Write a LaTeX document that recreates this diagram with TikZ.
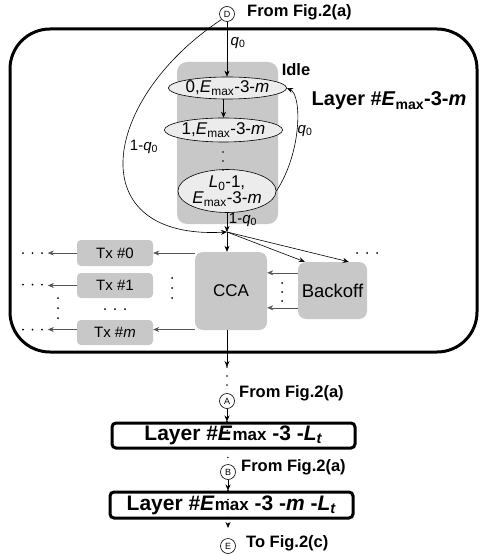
\documentclass[tikz,border=0pt]{standalone}
\usepackage{fontspec}
\setmainfont{Liberation Sans}
\usetikzlibrary{arrows.meta,shapes.geometric,calc}
\newcommand{\setfs}[1]{\fontsize{#1}{#1}\selectfont}
\newcommand{\Emx}{\textit{E}\textsubscript{max}}
\newcommand{\qz}{\textit{q}\textsubscript{0}}
\definecolor{boxgray}{HTML}{C8C8C8}
\definecolor{ellgray}{HTML}{ECECEC}
\definecolor{linegray}{HTML}{555555}
\tikzset{
  gbox/.style={fill=boxgray, rounded corners=8pt, inner sep=0pt},
  st/.style={ellipse, draw, fill=ellgray, inner sep=0pt, line width=0.6pt, font=\setfs{17}},
  fig/.style={circle, draw, inner sep=0pt, minimum size=15pt, line width=0.6pt, font=\setfs{9}},
  arr/.style={-{Stealth[length=6pt,width=5pt]}, line width=0.6pt},
  garr/.style={arr, draw=linegray},
  blbl/.style={font=\bfseries\setfs{16.5}, inner sep=0pt},
  lbl/.style={font=\setfs{15}, inner sep=1pt},
  layerbox/.style={draw, line width=3pt, rounded corners=4pt, inner sep=0pt, font=\bfseries\setfs{21}},
  dotline/.style={line width=1.6pt, dash pattern=on 0pt off 9pt, line cap=round}
}
\begin{document}
\begin{tikzpicture}[x=1pt,y=-1pt]
\useasboundingbox (0,0) rectangle (482,556);
% big layer frame
\node[draw, line width=3pt, rounded corners=40pt, minimum width=467, minimum height=323, inner sep=0pt] (layer) at (243.5,190.5) {};
% idle box
\node[gbox, rounded corners=10pt, minimum width=101, minimum height=162] (idle) at (227.5,143) {};
\node[font=\bfseries\setfs{16.5}, inner sep=0pt] (idlelbl) at (296,70) {Idle};
\node[font=\bfseries\setfs{20}, inner sep=0pt] (title) at (389,101) {Layer \#\Emx-3-\textit{m}};
% states
\node[st, minimum width=95, minimum height=22] (s0) at (227.5,88) {0,\Emx-3-\textit{m}};
\node[st, minimum width=93, minimum height=24] (s1) at (223.5,130) {1,\Emx-3-\textit{m}};
\node[st, minimum width=94, minimum height=35, align=center, font=\setfs{17}] (s2) at (227,191) {\textit{L}\textsubscript{0}-1,\\[-1pt]\Emx-3-\textit{m}};
\foreach \yy in {152,161,170} \fill (223,\yy) circle[radius=0.9pt];
% D circle
\node[fig] (D) at (227,14) {D};
\node[blbl, anchor=west] (fromD) at (247,12) {From Fig.2(a)};
\coordinate (J) at (227,232);
\draw[arr] (D.south) -- (D.south |- s0.north);
\node[lbl] (q0a) at (238,43) {\qz};
\draw[arr] (s1.north |- s0.south) -- (s1.north);
\draw[arr] (s2.south) -- (J);
\node[lbl] (q0b) at (243,220) {1-\qz};
\draw[arr] (D.south west) .. controls (100,100) and (80,240) .. (J);
\node[lbl] (q0c) at (144,147) {1-\qz};
\draw[arr] (s2.east) .. controls (302,152) and (302,95) .. (s0.east);
\node[lbl] (q0d) at (305,131) {\qz};
% CCA, Backoff, Tx
\node[gbox, minimum width=72, minimum height=78, font=\setfs{17}] (cca) at (231,291) {CCA};
\node[gbox, minimum width=69, minimum height=57, font=\setfs{18.5}] (bo) at (332.5,290.5) {Backoff};
\node[gbox, rounded corners=4pt, minimum width=76, minimum height=26, font=\setfs{15}] (tx0) at (115,253) {Tx \#0};
\node[gbox, rounded corners=4pt, minimum width=76, minimum height=25, font=\setfs{15}] (tx1) at (115,285.5) {Tx \#1};
\node[gbox, rounded corners=4pt, minimum width=76, minimum height=25, font=\setfs{15}] (txm) at (115,332.5) {Tx \#\textit{m}};
\draw[arr] (J) -- (J |- cca.north);
\draw[arr] (J) -- ($(bo.north west)+(7,0)$);
\draw[arr] (J) -- ($(bo.north west)+(51,0)$);
\draw[garr] ($(bo.north west)+(0,11)$) -- ($(cca.north east)+(0,21)$);
\draw[garr] ($(bo.north west)+(0,46)$) -- ($(cca.north east)+(0,56)$);
\draw[garr] (cca.west |- tx0) -- (tx0.east);
\draw[garr] ($(cca.west |- txm)+(0,-3)$) -- ($(txm.east)+(0,-3)$);
\draw[garr] (tx0.west) -- ++(-29,0);
\draw[garr] (tx1.west) -- ++(-29,0);
\draw[garr] ($(txm.west)+(0,-3)$) -- ++(-29,0);
\foreach \yy in {253,284.5,329.5} \foreach \xx in {23,32.5,42} \fill (\xx,\yy) circle[radius=1pt];
\foreach \yy in {298,308,318} \fill (58,\yy) circle[radius=1pt];
\foreach \xx in {105,115,125} \fill (\xx,309) circle[radius=1pt];
\foreach \yy in {278,288,298} \fill (172,\yy) circle[radius=1pt];
\foreach \yy in {283,292,301} \fill (282,\yy) circle[radius=1pt];
\foreach \xx in {357,367,377} \fill (\xx,253) circle[radius=1pt];
% lower part
\coordinate (c1) at (227,367);
\draw[arr] (J |- cca.south) -- (c1);
\node[fig] (A) at (227,401) {A};
\draw[dotline] (c1) -- (A.north);
\node[blbl, anchor=west] (fromA) at (239,393) {From Fig.2(a)};
\node[layerbox, minimum width=243, minimum height=25] (L1) at (233.5,435.5) {Layer \#\textit{E}{\setfs{17}max} -3 -\textit{L}\textsubscript{\textit{t}}};
\draw[arr] (A.south) -- (A.south |- L1.north);
\node[fig] (B) at (228,472) {B};
\draw[dotline] (A.south |- L1.north) -- (B.north);
\node[blbl, anchor=west] (fromB) at (241,467) {From Fig.2(a)};
\node[layerbox, minimum width=243, minimum height=26] (L2) at (231.5,505) {Layer \#\textit{E}{\setfs{17}max} -3 -\textit{m} -\textit{L}\textsubscript{\textit{t}}};
\draw[arr] (B.south) -- (B.south |- L2.north);
\node[fig] (E) at (228,546) {E};
\draw[dotline] (B.south |- L2.north) -- ++(0,28);
\draw[arr] ($(B.south |- L2.north)+(0,32)$) -- ++(0,5.5);
\node[blbl, anchor=west] (toE) at (246,543) {To Fig.2(c)};
\end{tikzpicture}
\end{document}
